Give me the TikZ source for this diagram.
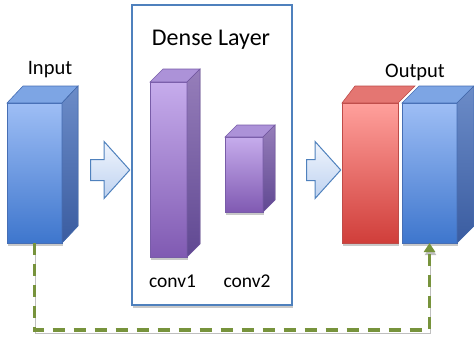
\documentclass[tikz,border=0pt]{standalone}
\usepackage{fontspec}
\setmainfont{Carlito}
\usetikzlibrary{shapes.arrows,arrows.meta,shadows}

\definecolor{bluehi}{RGB}{158,190,245}
\definecolor{bluelo}{RGB}{62,118,205}
\definecolor{blueside}{RGB}{108,140,200}
\definecolor{bluesidelo}{RGB}{58,92,160}
\definecolor{bluetop}{RGB}{125,165,228}
\definecolor{blueline}{RGB}{70,110,180}
\definecolor{redhi}{RGB}{255,160,156}
\definecolor{redlo}{RGB}{208,62,58}
\definecolor{redtop}{RGB}{228,118,114}
\definecolor{redline}{RGB}{190,75,72}
\definecolor{purphi}{RGB}{198,172,236}
\definecolor{purplo}{RGB}{128,90,178}
\definecolor{purpside}{RGB}{150,126,186}
\definecolor{purpsidelo}{RGB}{96,72,146}
\definecolor{purptop}{RGB}{172,146,216}
\definecolor{purpline}{RGB}{120,92,168}
\definecolor{arrowhi}{RGB}{240,245,253}
\definecolor{arrowlo}{RGB}{190,210,240}
\definecolor{boxline}{RGB}{79,129,189}
\definecolor{skipgreen}{RGB}{119,147,60}

\tikzset{
  face/.style={rectangle, draw, line width=0.6pt, inner sep=0pt, outer sep=0pt},
  shade/.style={drop shadow={shadow xshift=1pt, shadow yshift=-3pt, fill=gray!60, opacity=0.7}},
  bluefront/.style={face, draw=blueline, top color=bluehi, bottom color=bluelo, shade},
  redfront/.style={face, draw=redline, top color=redhi, bottom color=redlo, shade},
  purpfront/.style={face, draw=purpline, top color=purphi, bottom color=purplo, shade},
  blueback/.style={draw=blueline, line width=0.6pt, top color=blueside, bottom color=bluesidelo},
  purpback/.style={draw=purpline, line width=0.6pt, top color=purpside, bottom color=purpsidelo},
  flow/.style={single arrow, draw=boxline, line width=1pt, top color=arrowhi, bottom color=arrowlo,
    single arrow head extend=18pt, single arrow tip angle=96, inner xsep=0pt, inner ysep=10pt},
  label/.style={anchor=base, inner sep=0pt}
}

\begin{document}
\begin{tikzpicture}[x=1pt, y=1pt]
\useasboundingbox (0,0) rectangle (474,341);

% dense layer box
\node (den) [rectangle, draw=boxline, line width=1.3pt, fill=white, minimum width=160pt,
  minimum height=300pt, shade] at (212, 186) {};
\node (dentxt) [label, font=\fontsize{24}{28}\selectfont] at (211, 295) {Dense Layer};

% input
\node (in) [bluefront, minimum width=55pt, minimum height=140pt] at (34.5, 168) {};
\filldraw [draw=blueline, line width=0.6pt, fill=bluetop] (in.north west) -- ++(16,17) -- ++(55,0) -- (in.north east) -- cycle;
\filldraw [blueback] (in.north east) -- ++(16,17) -- ++(0,-140) -- (in.south east) -- cycle;
\node (intxt) [label, font=\fontsize{20.5}{24}\selectfont] at (50, 267) {Input};

% arrows
\node (a1) [flow, minimum height=39pt] at (105.5, 171) {};
\node (a2) [flow, minimum height=34pt] at (319, 171) {};

% conv1
\node (c1) [purpfront, minimum width=37pt, minimum height=175pt] at (168.5, 171.5) {};
\filldraw [draw=purpline, line width=0.6pt, fill=purptop] (c1.north west) -- ++(13,13) -- ++(37,0) -- (c1.north east) -- cycle;
\filldraw [purpback] (c1.north east) -- ++(13,13) -- ++(0,-175) -- (c1.south east) -- cycle;
\node (c1txt) [label, font=\fontsize{19.5}{23}\selectfont] at (172.5, 54) {conv1};

% conv2
\node (c2) [purpfront, minimum width=38pt, minimum height=75pt] at (244, 166.5) {};
\filldraw [draw=purpline, line width=0.6pt, fill=purptop] (c2.north west) -- ++(12,12) -- ++(38,0) -- (c2.north east) -- cycle;
\filldraw [purpback] (c2.north east) -- ++(12,12) -- ++(0,-75) -- (c2.south east) -- cycle;
\node (c2txt) [label, font=\fontsize{19.5}{23}\selectfont] at (247, 54) {conv2};

% output
\node (red) [redfront, minimum width=56pt, minimum height=140pt] at (370, 168) {};
\filldraw [draw=redline, line width=0.6pt, fill=redtop] (red.north west) -- ++(13,17) -- ++(60,0) -- (red.north east) -- cycle;
\node (out) [bluefront, minimum width=55pt, minimum height=140pt] at (429.5, 168) {};
\filldraw [draw=blueline, line width=0.6pt, fill=bluetop] (out.north west) -- ++(17,17) -- ++(55,0) -- (out.north east) -- cycle;
\filldraw [blueback] (out.north east) -- ++(17,17) -- ++(0,-140) -- (out.south east) -- cycle;
\node (outtxt) [label, font=\fontsize{20.5}{24}\selectfont] at (415, 263.5) {Output};

% skip connection
\coordinate (low) at (35, 11);
\draw [skipgreen, line width=3.3pt, dash pattern=on 12pt off 9pt, -{Triangle[width=11pt, length=9pt]},
  preaction={draw=gray!50, transform canvas={xshift=1pt, yshift=-3pt}}]
  (in.south) -- (in.south |- low) -| (out.south);

\end{tikzpicture}
\end{document}
